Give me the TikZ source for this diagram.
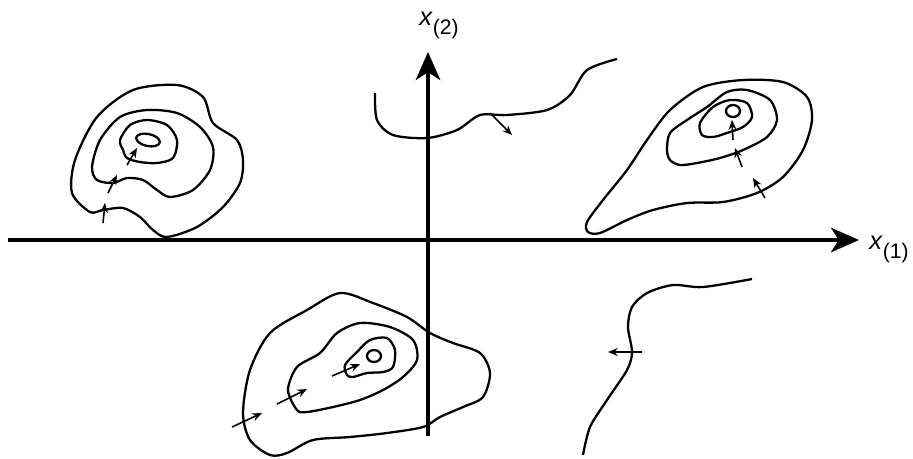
\documentclass[tikz,border=0pt]{standalone}
\usepackage{fontspec}
\setmainfont{Liberation Sans}
\usetikzlibrary{arrows.meta}
\tikzset{
  axis/.style={line width=1.9pt, -{Stealth[length=16pt,width=14pt,inset=4.5pt]}},
  contour/.style={line width=1.3pt, line join=round},
  grad/.style={line width=0.9pt, -{Stealth[length=5.5pt,width=4.5pt]}},
}
\newcommand{\axlabel}[1]{\fontsize{14.5}{16}\selectfont\textit{x}\raisebox{-5.5pt}{\fontsize{12}{13}\selectfont(#1)}}
\begin{document}
\begin{tikzpicture}[x=0.02cm,y=-0.02cm]
    \useasboundingbox (0,0) rectangle (913,458);
    % axes
    \draw[axis] (8,240) -- (859,240);
    \draw[axis] (428,436) -- (428,52);
    \node[anchor=base west, inner sep=0] (xone) at (869,249) {\axlabel{1}};
    \node[anchor=base west, inner sep=0] (xtwo) at (419,25) {\axlabel{2}};
    % top left
    \draw[contour] plot[smooth cycle] coordinates {(103,210) (90,212) (72,193) (75,160) (97,117) (133,90) (177,85) (203,97) (213,123) (237,140) (243,160) (240,183) (223,207) (197,227) (167,237) (153,230) (140,217) (123,208)};
    \draw[contour] plot[smooth cycle] coordinates {(113,183) (97,180) (92,167) (100,140) (120,117) (147,110) (177,113) (200,127) (213,147) (210,170) (193,190) (170,197) (157,190) (143,180) (127,178)};
    \draw[contour] plot[smooth cycle] coordinates {(123,150) (120,140) (130,125) (147,120) (167,125) (177,140) (173,158) (157,163) (140,162) (127,158)};
    \draw[contour, rotate around={-12:(148,140)}] (148,140) ellipse [x radius=12, y radius=6];
    \draw[grad] (103,223) -- (105,203);
    \draw[grad] (108,193) -- (117,175);
    \draw[grad] (127,165) -- (137,148);
    % top right
    \draw[contour] plot[smooth cycle] coordinates {(588,232) (587,222) (603,200) (627,170) (647,140) (670,110) (703,87) (743,80) (783,82) (807,97) (812,120) (803,150) (783,177) (757,193) (723,202) (687,203) (653,210) (627,220) (600,233)};
    \draw[contour] plot[smooth cycle] coordinates {(667,150) (670,133) (687,120) (707,107) (727,92) (747,90) (770,100) (777,120) (767,137) (743,150) (720,158) (697,163) (680,165) (670,160)};
    \draw[contour] plot[smooth cycle] coordinates {(702,135) (700,123) (713,107) (730,100) (747,103) (752,117) (743,127) (727,133) (713,137)};
    \draw[contour] (733,111) ellipse [x radius=7, y radius=6];
    \draw[grad] (733,140) -- (732,120);
    \draw[grad] (742,167) -- (735,148);
    \draw[grad] (765,198) -- (753,178);
    % bottom
    \draw[contour] plot[smooth cycle] coordinates {(270,455) (250,440) (243,413) (250,370) (270,333) (307,310) (340,293) (373,303) (407,317) (430,333) (453,343) (480,353) (490,373) (483,397) (463,407) (440,417) (423,427) (387,433) (350,437) (313,440) (287,453)};
    \draw[contour] plot[smooth cycle] coordinates {(297,410) (288,390) (297,367) (320,353) (337,333) (360,323) (390,327) (413,340) (417,360) (403,377) (383,390) (360,400) (333,407) (307,412)};
    \draw[contour] plot[smooth cycle] coordinates {(347,375) (345,365) (357,352) (370,340) (387,338) (395,350) (393,367) (383,372) (367,373) (353,377)};
    \draw[contour] (374,356) ellipse [x radius=7, y radius=6];
    \draw[grad] (232,427) -- (262,413);
    \draw[grad] (277,404) -- (307,389);
    \draw[grad] (332,376) -- (360,364);
    % ridge lines
    \draw[contour] plot[smooth] coordinates {(375,93) (377,120) (393,135) (427,138) (457,130) (480,115) (507,115) (547,110) (570,95) (587,70) (617,59)};
    \draw[grad] (490,113) -- (512,135);
    \draw[contour] plot[smooth] coordinates {(752,279) (703,287) (673,285) (647,293) (632,307) (628,327) (632,352) (627,370) (607,400) (590,427) (583,455)};
    \draw[grad] (642,352) -- (608,352);
\end{tikzpicture}
\end{document}
